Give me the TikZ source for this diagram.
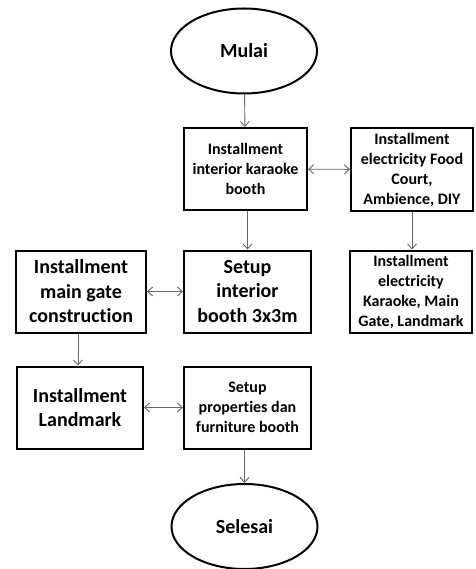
\documentclass[tikz,border=0pt]{standalone}
\usepackage{fontspec}
\setmainfont{Carlito}[Ligatures=NoCommon]
\usepackage{tikz}
\usetikzlibrary{shapes.geometric, arrows.meta, positioning}

\tikzset{
    stepbox/.style={rectangle, draw=black, line width=2pt, align=center, inner sep=0pt,
        minimum height=82pt},
    terminal/.style={ellipse, draw=black, line width=2pt, inner sep=0pt,
        minimum width=146pt, minimum height=85pt, font=\fontsize{20}{24}\selectfont\bfseries},
    bigtext/.style={font=\fontsize{20}{24.5}\selectfont\bfseries},
    smalltext/.style={font=\fontsize{16}{20}\selectfont\bfseries},
    link/.style={draw=black!60, line width=0.9pt, -{Straight Barb[length=5pt,width=9pt]}},
    twoway/.style={link, {Straight Barb[length=5pt,width=9pt]}-{Straight Barb[length=5pt,width=9pt]}}
}

\begin{document}
\begin{tikzpicture}[x=1pt, y=-1pt]
    \useasboundingbox (0,0) rectangle (475,569);

    % start and end
    \node[terminal] (mulai) at (244,51) {Mulai};
    \node[terminal] (selesai) at (244.5,526.5) {Selesai};

    % first row
    \node[stepbox, smalltext, minimum width=123pt] (karaoke) at (245.5,169)
        {Installment\\interior karaoke\\booth};
    \node[stepbox, smalltext, minimum width=122pt] (foodcourt) at (412,169.5)
        {Installment\\electricity Food\\Court,\\Ambience, DIY};

    % second row
    \node[stepbox, bigtext, minimum width=130pt] (maingate) at (81,291.5)
        {Installment\\main gate\\construction};
    \node[stepbox, bigtext, minimum width=127pt] (interior) at (247.5,291.5)
        {Setup\\interior\\booth 3x3m};
    \node[stepbox, smalltext, minimum width=122pt] (mainelec) at (411,291.5)
        {Installment\\electricity\\Karaoke, Main\\Gate, Landmark};

    % third row
    \node[stepbox, bigtext, minimum width=126pt] (landmark) at (80,407.5)
        {Installment\\Landmark};
    \node[stepbox, smalltext, minimum width=127pt] (furniture) at (247.5,407.5)
        {Setup\\properties dan\\furniture booth};

    % connectors
    \draw[link] (mulai) -- (karaoke);
    \draw[twoway] (karaoke) -- (foodcourt);
    \draw[link] (karaoke.south -| interior.north) -- (interior.north);
    \draw[link] (foodcourt) -- (foodcourt |- mainelec.north);
    \draw[twoway] (maingate) -- (interior);
    \draw[link] ([xshift=-3pt]maingate.south) -- ([xshift=-3pt]maingate.south |- landmark.north);
    \draw[twoway] (landmark) -- (furniture);
    \draw[link] (furniture.south -| selesai.north) -- (selesai.north);
\end{tikzpicture}
\end{document}
